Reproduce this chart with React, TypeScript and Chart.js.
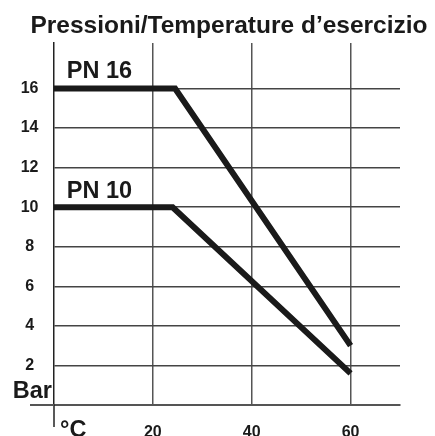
import React, { useEffect, useRef } from "react";
import { Chart, registerables } from "chart.js";

Chart.register(...registerables);

const titleText = "Pressioni/Temperature d\u2019esercizio";
const temps16 = [0, 24.5, 60];
const pn16 = [16, 16, 3];
const temps10 = [0, 24, 60];
const pn10 = [10, 10, 1.6];
const yTicks = [2, 4, 6, 8, 10, 12, 14, 16];
const xTicks = [20, 40, 60];
const seriesLabels = ["PN 16", "PN 10"];
const yUnit = "Bar";
const xUnit = "\u00B0C";

const INK = "#1a1a1a";
const FONT = "'Liberation Sans', Arial, sans-serif";

const extras = {
  id: "extras",
  afterDraw(chart: any) {
    const { ctx, chartArea, scales } = chart;
    const xs = scales.x;
    const ys = scales.y;
    ctx.save();
    // axis extensions
    ctx.strokeStyle = "#222";
    ctx.lineWidth = 1.5;
    ctx.beginPath();
    ctx.moveTo(chartArea.left, chartArea.bottom);
    ctx.lineTo(chartArea.left, chartArea.bottom + 22);
    ctx.stroke();
    ctx.strokeStyle = "#555";
    ctx.lineWidth = 2;
    ctx.beginPath();
    ctx.moveTo(chartArea.left - 24, chartArea.bottom);
    ctx.lineTo(chartArea.left, chartArea.bottom);
    ctx.stroke();

    ctx.fillStyle = INK;
    // title
    ctx.font = `bold 24.5px ${FONT}`;
    ctx.textAlign = "center";
    ctx.textBaseline = "alphabetic";
    ctx.fillText(titleText, chartArea.left + 175, chartArea.top - 10);

    ctx.font = `bold 23.5px ${FONT}`;
    ctx.textAlign = "left";
    ctx.fillText(seriesLabels[0], xs.getPixelForValue(2.6), ys.getPixelForValue(16.55));
    ctx.fillText(seriesLabels[1], xs.getPixelForValue(2.6), ys.getPixelForValue(10.45));
    ctx.textAlign = "right";
    ctx.fillText(yUnit, chartArea.left - 2, chartArea.bottom - 7);
    ctx.textAlign = "left";
    ctx.fillText(xUnit, chartArea.left + 6, chartArea.bottom + 32);
    ctx.restore();
  },
};

export default function App() {
  const ref = useRef<HTMLCanvasElement | null>(null);
  useEffect(() => {
    if (!ref.current) return;
    const chart = new Chart(ref.current, {
      type: "line",
      data: {
        datasets: [
          {
            label: seriesLabels[0],
            data: temps16.map((t, i) => ({ x: t, y: pn16[i] })),
            borderColor: INK,
            borderWidth: 6,
            pointRadius: 0,
            borderJoinStyle: "miter",
            borderCapStyle: "butt",
            tension: 0,
          },
          {
            label: seriesLabels[1],
            data: temps10.map((t, i) => ({ x: t, y: pn10[i] })),
            borderColor: INK,
            borderWidth: 6,
            pointRadius: 0,
            borderJoinStyle: "miter",
            borderCapStyle: "butt",
            tension: 0,
          },
        ],
      },
      options: {
        responsive: false,
        animation: false,
        layout: { padding: { left: 0, right: 35, top: 43, bottom: 0 } },
        plugins: {
          legend: { display: false },
          tooltip: { enabled: false },
          title: { display: false },
        },
        scales: {
          x: {
            type: "linear",
            min: 0,
            max: 70,
            afterBuildTicks: (s: any) => {
              s.ticks = xTicks.map((v) => ({ value: v }));
            },
            afterFit: (s: any) => {
              s.height = 31;
            },
            grid: { color: "#555", lineWidth: 1.5, drawTicks: false },
            border: { display: true, color: "#555", width: 2 },
            ticks: {
              color: INK,
              padding: 18,
              maxRotation: 0,
              autoSkip: false,
              font: { family: FONT, size: 16, weight: "bold" },
            },
          },
          y: {
            type: "linear",
            min: 0,
            max: 18.3,
            afterBuildTicks: (s: any) => {
              s.ticks = yTicks.map((v) => ({ value: v }));
            },
            afterFit: (s: any) => {
              s.width = 54;
            },
            grid: { color: "#444", lineWidth: 1.5, drawTicks: false },
            border: { display: true, color: "#222", width: 1.5 },
            ticks: {
              color: INK,
              padding: 15.5,
              crossAlign: "center",
              autoSkip: false,
              font: { family: FONT, size: 16, weight: "bold" },
            },
          },
        },
      },
      plugins: [extras],
    } as any);
    return () => chart.destroy();
  }, []);
  return (
    <div style={{ position: "absolute", left: 0, top: 0, width: 435, height: 436, background: "#fff" }}>
      <canvas ref={ref} width={435} height={436} style={{ display: "block" }} />
    </div>
  );
}
